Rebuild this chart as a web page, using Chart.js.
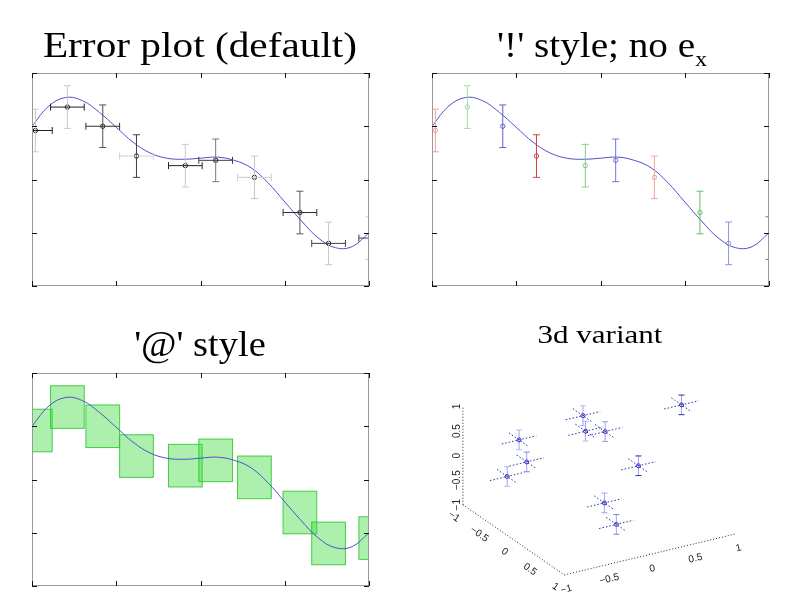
<!DOCTYPE html>
<html>
<head>
<meta charset="utf-8">
<script src="https://cdn.jsdelivr.net/npm/chart.js@4/dist/chart.umd.min.js"></script>
<style>
body { margin: 0; background: #fff; overflow: hidden; }
#wrap { position: relative; width: 800px; height: 600px; }
canvas { position: absolute; }
.title { position: absolute; width: 400px; text-align: center; font-family: 'Liberation Serif', serif;
         color: #000; line-height: 1; white-space: nowrap; transform-origin: 50% 50%; }
.title .sub { font-size: 21px; vertical-align: -9px; }
</style>
</head>
<body>
<div id="wrap">
  <canvas id="c1" width="400" height="300" style="left:0;top:0"></canvas>
  <canvas id="c2" width="400" height="300" style="left:400px;top:0"></canvas>
  <canvas id="c3" width="400" height="300" style="left:0;top:300px"></canvas>
  <canvas id="c4" width="400" height="300" style="left:400px;top:300px"></canvas>
  <div class="title" style="left:0;top:28px;font-size:35px;transform:scaleX(1.18)">Error plot (default)</div>
  <div class="title" style="left:402px;top:28px;font-size:35px;transform:scaleX(1.12)">'!' style; no e<span class="sub">x</span></div>
  <div class="title" style="left:0;top:327px;font-size:35px;transform:scaleX(1.10)">'@' style</div>
  <div class="title" style="left:400px;top:322px;font-size:25px;transform:scaleX(1.24)">3d variant</div>
</div>
<script>
// smooth curve y(x), x from -1 to 1
const curveX = [-1, -0.9, -0.8, -0.7, -0.6, -0.5, -0.4, -0.3, -0.2, -0.1, 0,
                0.1, 0.2, 0.3, 0.4, 0.5, 0.6, 0.7, 0.8, 0.9, 1];
const curveY = [0.50, 0.69, 0.77, 0.74, 0.63, 0.49, 0.35, 0.25, 0.20, 0.19, 0.20,
                0.21, 0.18, 0.11, -0.03, -0.21, -0.39, -0.55, -0.64, -0.63, -0.50];

// measured points with errors
const ptX = [-0.98, -0.79, -0.58, -0.38, -0.09, 0.09, 0.32, 0.59, 0.76, 1.04];
const ptY = [0.46, 0.68, 0.50, 0.22, 0.13, 0.18, 0.02, -0.31, -0.60, -0.55];
const errX = [0.1, 0.1, 0.1, 0.1, 0.1, 0.1, 0.1, 0.1, 0.1, 0.1];
const errY = [0.2, 0.2, 0.2, 0.2, 0.2, 0.2, 0.2, 0.2, 0.2, 0.2];

// frame tick values
const frameTicks = [-1, -0.5, 0, 0.5, 1];

// 3d points, error 0.2 on every axis
const p3X = [0.95, 0.10, 0.13, 0.24, -0.76, -0.73, -0.78, 0.45, -0.24, -0.16];
const p3Y = [0.00, -0.50, -0.50, -0.30, -0.30, -0.20, -0.50, 0.00, 0.50, 0.60];
const p3Z = [0.93, 0.71, 0.38, 0.47, 0.72, 0.33, -0.16, -0.10, -0.21, -0.61];
const err3 = 0.2;
const axisTicks3d = [-1, -0.5, 0, 0.5, 1];

// styles
const curveColor = '#5050c8';
const vColors1 = ['#c8c8c8', '#c8c8c8', '#505050', '#404040', '#c8c8c8', '#7a7a7a', '#c4c4c4', '#5a5a5a', '#c8c8c8', '#c8c8c8'];
const hColors1 = ['#202020', '#202020', '#303030', '#d0d0d0', '#202020', '#404040', '#cccccc', '#303030', '#404040', '#404040'];
const colors2 = ['#f0a0a0', '#a0e0a0', '#6060d0', '#d04040', '#80d080', '#7474d8', '#f0a4a4', '#60c060', '#9494e0', '#c85050'];
const zCapColors = ['#2a2aa0', '#b8b8ee', '#b8b8ee', '#9a9ae6', '#b8b8ee', '#8080dd', '#b8b8ee', '#2a2aa0', '#a0a0e8', '#8080dd'];

const curveData = curveX.map((x, i) => ({ x, y: curveY[i] }));
const pointData = ptX.map((x, i) => ({ x, y: ptY[i] }));

function clipArea(ctx, a) {
  ctx.beginPath();
  ctx.rect(a.left, a.top, a.right - a.left, a.bottom - a.top);
  ctx.clip();
}

const framePlugin = {
  id: 'frame',
  afterDraw(chart) {
    const { ctx, chartArea: a, scales: { x, y } } = chart;
    ctx.save();
    ctx.lineWidth = 1;
    ctx.strokeStyle = '#9a9a9a';
    ctx.strokeRect(a.left + 0.5, a.top + 0.5, a.right - a.left - 1, a.bottom - a.top - 1);
    ctx.strokeStyle = '#111';
    ctx.beginPath();
    frameTicks.forEach(v => {
      const px = Math.round(x.getPixelForValue(v)) + 0.5;
      ctx.moveTo(px, a.top); ctx.lineTo(px, a.top + 5);
      ctx.moveTo(px, a.bottom); ctx.lineTo(px, a.bottom - 5);
      const py = Math.round(y.getPixelForValue(v)) + 0.5;
      ctx.moveTo(a.left, py); ctx.lineTo(a.left + 5, py);
      ctx.moveTo(a.right, py); ctx.lineTo(a.right - 5, py);
    });
    ctx.stroke();
    ctx.restore();
  }
};

function errorBars(vColors, hColors) {
  return {
    id: 'errorBars',
    afterDatasetsDraw(chart) {
      const { ctx, chartArea: a, scales: { x, y } } = chart;
      const cap = 3.5;
      ctx.save();
      clipArea(ctx, a);
      ctx.lineWidth = 1;
      ptX.forEach((xv, i) => {
        // points past the edge are drawn on the edge
        const xc = x.getPixelForValue(Math.min(xv, x.max));
        const yc = y.getPixelForValue(ptY[i]);
        const y0 = y.getPixelForValue(ptY[i] - errY[i]);
        const y1 = y.getPixelForValue(ptY[i] + errY[i]);
        ctx.strokeStyle = vColors[i];
        ctx.beginPath();
        ctx.moveTo(xc, y0); ctx.lineTo(xc, y1);
        ctx.moveTo(xc - cap, y0); ctx.lineTo(xc + cap, y0);
        ctx.moveTo(xc - cap, y1); ctx.lineTo(xc + cap, y1);
        ctx.stroke();
        if (hColors) {
          const x0 = x.getPixelForValue(xv - errX[i]);
          const x1 = x.getPixelForValue(xv + errX[i]);
          ctx.strokeStyle = hColors[i];
          ctx.beginPath();
          ctx.moveTo(x0, yc); ctx.lineTo(x1, yc);
          ctx.moveTo(x0, yc - cap); ctx.lineTo(x0, yc + cap);
          ctx.moveTo(x1, yc - cap); ctx.lineTo(x1, yc + cap);
          ctx.stroke();
        }
      });
      ctx.restore();
    }
  };
}

const errorBoxes = {
  id: 'errorBoxes',
  beforeDatasetsDraw(chart) {
    const { ctx, chartArea: a, scales: { x, y } } = chart;
    ctx.save();
    clipArea(ctx, a);
    ctx.lineWidth = 1;
    ctx.fillStyle = 'rgba(60, 220, 60, 0.42)';
    ctx.strokeStyle = 'rgba(40, 200, 40, 0.85)';
    ptX.forEach((xv, i) => {
      const x0 = x.getPixelForValue(xv - errX[i]);
      const x1 = x.getPixelForValue(xv + errX[i]);
      const y0 = y.getPixelForValue(ptY[i] + errY[i]);
      const y1 = y.getPixelForValue(ptY[i] - errY[i]);
      ctx.fillRect(x0, y0, x1 - x0, y1 - y0);
      ctx.strokeRect(x0, y0, x1 - x0, y1 - y0);
    });
    ctx.restore();
  }
};

function panel(id, datasets, plugins) {
  return new Chart(document.getElementById(id), {
    type: 'scatter',
    data: { datasets },
    options: {
      responsive: false,
      animation: false,
      layout: { padding: { left: 32, top: 73, right: 31, bottom: 14 } },
      scales: {
        x: { type: 'linear', min: -1, max: 1, display: false },
        y: { type: 'linear', min: -1, max: 1, display: false }
      },
      plugins: { legend: { display: false }, title: { display: false }, tooltip: { enabled: false } }
    },
    plugins: [framePlugin].concat(plugins)
  });
}

function curveSet() {
  return {
    data: curveData, showLine: true, borderColor: curveColor, borderWidth: 1,
    pointRadius: 0, tension: 0.4
  };
}

function pointSet(colors) {
  return {
    data: pointData, pointStyle: 'circle', pointRadius: 2.2, borderWidth: 1,
    borderColor: colors, backgroundColor: 'rgba(0,0,0,0)'
  };
}

panel('c1', [pointSet('#222'), curveSet()], [errorBars(vColors1, hColors1)]);
panel('c2', [pointSet(colors2), curveSet()], [errorBars(colors2, null)]);
panel('c3', [curveSet()], [errorBoxes]);

// 3d variant: rotated box seen from the front-left
const view = { ex: [0.883, 0.213], ey: [0.52, -0.363], ez: [0, 0.508] };
function project(x, y, z) {
  return {
    x: x * view.ex[0] + y * view.ey[0] + z * view.ez[0],
    y: x * view.ex[1] + y * view.ey[1] + z * view.ez[1]
  };
}
function segments(list) {
  const out = [];
  list.forEach(([p, q]) => out.push(p, q, { x: null, y: null }));
  return out;
}

const axesSegs = segments([
  [project(-1, -1, -1), project(-1, -1, 1)],
  [project(-1, -1, -1), project(-1, 1, -1)],
  [project(-1, 1, -1), project(1, 1, -1)]
]);
const xyBarSegs = [], zBarSegs = [];
p3X.forEach((x, i) => {
  const y = p3Y[i], z = p3Z[i];
  xyBarSegs.push([project(x - err3, y, z), project(x + err3, y, z)]);
  xyBarSegs.push([project(x, y - err3, z), project(x, y + err3, z)]);
  zBarSegs.push([project(x, y, z - err3), project(x, y, z + err3)]);
});
const points3d = p3X.map((x, i) => project(x, p3Y[i], p3Z[i]));

const fmt = t => (t < 0 ? '\u2212' : '') + Math.abs(t);

const axisLabels3d = {
  id: 'axisLabels3d',
  afterDatasetsDraw(chart) {
    const { ctx, scales: { x: sx, y: sy } } = chart;
    const pix = p => [sx.getPixelForValue(p.x), sy.getPixelForValue(p.y)];
    // caps on the vertical bars
    ctx.save();
    ctx.lineWidth = 1;
    zBarSegs.forEach(([p, q], i) => {
      ctx.strokeStyle = zCapColors[i];
      ctx.beginPath();
      [p, q].forEach(e => {
        const [u, v] = pix(e);
        ctx.moveTo(u - 3, v); ctx.lineTo(u + 3, v);
      });
      ctx.stroke();
    });
    // tick labels along the three axes
    const axes = [
      { at: t => project(t, 1, -1), from: project(-1, 1, -1), to: project(1, 1, -1), off: [2, 14.5] },
      { at: t => project(-1, t, -1), from: project(-1, -1, -1), to: project(-1, 1, -1), off: [-9, 12] },
      { at: t => project(-1, -1, t), from: project(-1, -1, -1), to: project(-1, -1, 1), off: [-6, 0] }
    ];
    ctx.fillStyle = '#222';
    ctx.font = '10px "Liberation Sans", sans-serif';
    ctx.textAlign = 'center';
    ctx.textBaseline = 'middle';
    axes.forEach(ax => {
      const [u0, v0] = pix(ax.from), [u1, v1] = pix(ax.to);
      const ang = Math.atan2(v1 - v0, u1 - u0);
      axisTicks3d.forEach(t => {
        const [u, v] = pix(ax.at(t));
        ctx.save();
        ctx.translate(u + ax.off[0], v + ax.off[1]);
        ctx.rotate(ang);
        ctx.fillText(fmt(t), 0, 0);
        ctx.restore();
      });
    });
    ctx.restore();
  }
};

new Chart(document.getElementById('c4'), {
  type: 'scatter',
  data: {
    datasets: [
      { data: points3d, pointStyle: 'circle', pointRadius: 2, borderWidth: 1,
        borderColor: '#3030c0', backgroundColor: 'rgba(0,0,0,0)' },
      { data: segments(xyBarSegs), showLine: true, borderColor: '#2c2cac', borderWidth: 1,
        borderDash: [1.5, 2], pointRadius: 0 },
      { data: segments(zBarSegs), showLine: true, borderColor: 'rgba(100, 100, 230, 0.6)', borderWidth: 1,
        pointRadius: 0 },
      { data: axesSegs, showLine: true, borderColor: '#222', borderWidth: 1,
        borderDash: [1, 2], pointRadius: 0 }
    ]
  },
  options: {
    responsive: false,
    animation: false,
    layout: { padding: 0 },
    scales: {
      x: { type: 'linear', min: -1.997, max: 2.003, display: false },
      y: { type: 'linear', min: -1.292, max: 1.708, display: false }
    },
    plugins: { legend: { display: false }, title: { display: false }, tooltip: { enabled: false } }
  },
  plugins: [axisLabels3d]
});
</script>
</body>
</html>
